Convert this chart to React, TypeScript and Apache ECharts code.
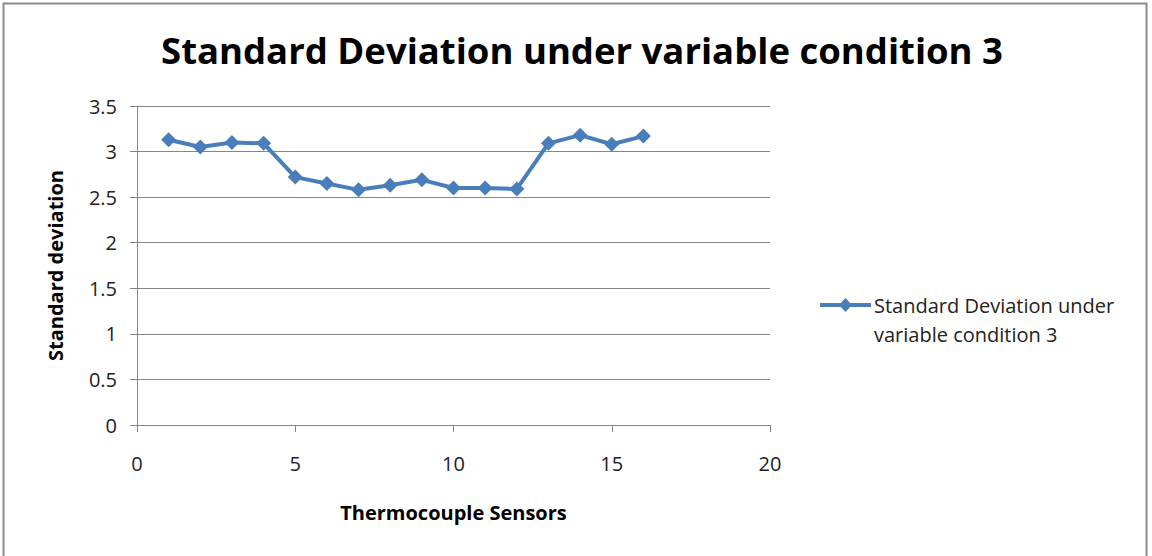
import React, { useEffect, useRef } from "react";
import * as echarts from "echarts";

const sensors = [1, 2, 3, 4, 5, 6, 7, 8, 9, 10, 11, 12, 13, 14, 15, 16];
const stdDev = [3.13, 3.05, 3.1, 3.09, 2.72, 2.65, 2.58, 2.63, 2.69, 2.6, 2.6, 2.59, 3.09, 3.18, 3.08, 3.17];
const seriesName = "Standard Deviation under variable condition 3";
const legendLine1 = "Standard Deviation under";
const legendLine2 = "variable condition 3";
const titleText = "Standard Deviation under variable condition 3";
const xTitle = "Thermocouple Sensors";
const yTitle = "Standard deviation";

export default function App() {
  const ref = useRef<HTMLDivElement>(null);
  useEffect(() => {
    document.body.style.margin = "0";
    const chart = echarts.init(ref.current!, null, { renderer: "svg" });
    const font = "'Open Sans', 'Noto Sans', sans-serif";
    const blue = "#4A7EBB";
    chart.setOption({
      animation: false,
      backgroundColor: "#fff",
      title: {
        text: titleText,
        left: 577,
        textAlign: "center",
        top: 26,
        textStyle: { fontFamily: font, fontWeight: "bold", fontSize: 36.5, color: "#000" },
      },
      grid: { left: 137, right: 382, top: 106, bottom: 131 },
      xAxis: {
        type: "value",
        min: 0,
        max: 20,
        interval: 5,
        name: xTitle,
        nameLocation: "middle",
        nameGap: 77,
        nameTextStyle: { fontFamily: font, fontWeight: "bold", fontSize: 20, color: "#000" },
        axisLine: { show: true, lineStyle: { color: "#868686", width: 1 } },
        axisTick: { show: true, length: 7, lineStyle: { color: "#868686" } },
        axisLabel: { fontFamily: font, fontSize: 20, color: "#222", margin: 28 },
        splitLine: { show: false },
      },
      yAxis: {
        type: "value",
        min: 0,
        max: 3.5,
        interval: 0.5,
        name: yTitle,
        nameLocation: "middle",
        nameGap: 72,
        nameTextStyle: { fontFamily: font, fontWeight: "bold", fontSize: 20, color: "#000" },
        axisLine: { show: true, lineStyle: { color: "#868686", width: 1 } },
        axisTick: { show: true, length: 7, lineStyle: { color: "#868686" } },
        axisLabel: { fontFamily: font, fontSize: 20, color: "#222", margin: 20 },
        splitLine: { show: true, lineStyle: { color: "#868686", width: 1 } },
      },
      series: [
        {
          name: seriesName,
          type: "line",
          data: sensors.map((s, i) => [s, stdDev[i]]),
          symbol: "diamond",
          symbolSize: 15,
          lineStyle: { color: blue, width: 4 },
          itemStyle: { color: blue },
        },
      ],
      graphic: [
        {
          type: "rect",
          shape: { x: 3.5, y: 3.5, width: 1143, height: 560 },
          style: { fill: "none", stroke: "#8c8c8c", lineWidth: 2 },
          silent: true,
        },
        {
          type: "line",
          shape: { x1: 820, y1: 305, x2: 871, y2: 305 },
          style: { stroke: blue, lineWidth: 4 },
          silent: true,
        },
        {
          type: "polygon",
          shape: { points: [[845.5, 298], [852, 305], [845.5, 312], [839, 305]] },
          style: { fill: blue },
          silent: true,
        },
        {
          type: "text",
          x: 874,
          y: 305,
          style: { text: legendLine1, fontFamily: font, fontSize: 20, fill: "#222", verticalAlign: "middle" },
          silent: true,
        },
        {
          type: "text",
          x: 874,
          y: 334,
          style: { text: legendLine2, fontFamily: font, fontSize: 20, fill: "#222", verticalAlign: "middle" },
          silent: true,
        },
      ],
    });
    return () => chart.dispose();
  }, []);
  return <div ref={ref} style={{ width: 1152, height: 556 }} />;
}
